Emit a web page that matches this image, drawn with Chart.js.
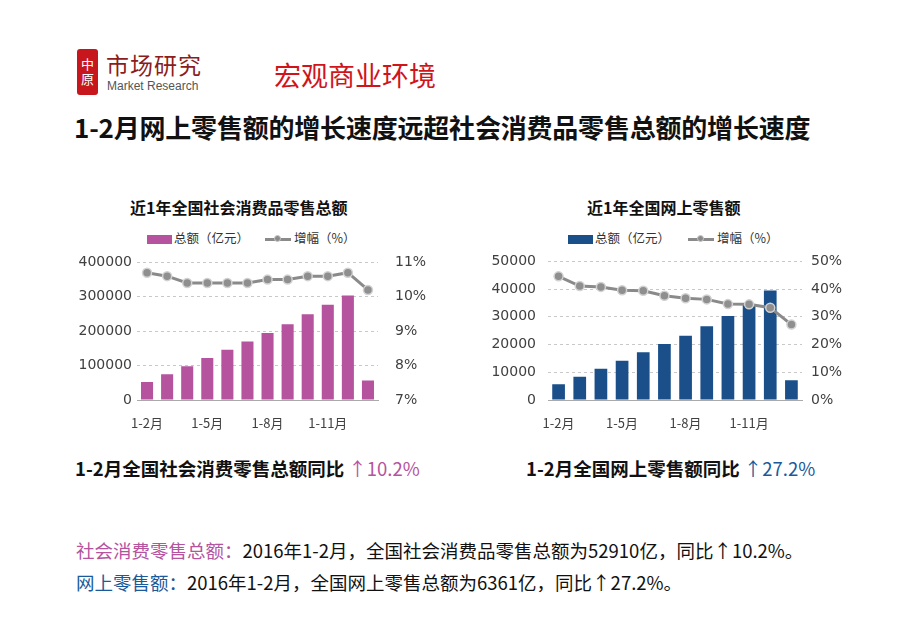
<!DOCTYPE html>
<html><head><meta charset="utf-8">
<script src="https://cdn.jsdelivr.net/npm/chart.js@4/dist/chart.umd.min.js"></script>
<style>
html,body{margin:0;padding:0;background:#fff;}
body{width:920px;height:637px;position:relative;overflow:hidden;font-family:"Noto Sans CJK SC","Noto Sans",sans-serif;}
.abs{position:absolute;white-space:nowrap;}
#logo{left:77px;top:49px;width:21px;height:46px;background:#c8161d;border-radius:3px;color:#fff;font-size:13px;line-height:15px;text-align:center;padding-top:7px;box-sizing:border-box;}
.ctitle{font-weight:bold;font-size:16px;color:#111;}
.leg{font-size:12.5px;color:#333;}
.lb{display:inline-block;width:25px;height:9px;vertical-align:middle;margin-right:2px;}
.ll{display:inline-block;width:26px;height:3px;background:#8a8a8a;vertical-align:middle;position:relative;margin-right:3px;}
.ll:after{content:"";position:absolute;left:9px;top:-3px;width:7px;height:7px;border-radius:50%;background:#8a8a8a;border:1px solid #c8c8c8;box-sizing:border-box;}
canvas{position:absolute;}
</style></head><body>
<div id="logo" class="abs">中<br>原</div>
<div class="abs" style="left:106px;top:47px;font-size:23px;color:#8a1d1d;letter-spacing:1px;">市场研究</div>
<div class="abs" style="left:107px;top:79px;font-size:12px;color:#555;font-family:'Liberation Sans',sans-serif;">Market Research</div>
<div class="abs" style="left:274px;top:55px;font-size:27px;color:#d0141c;">宏观商业环境</div>
<div class="abs" style="left:74px;top:108px;font-size:26px;font-weight:bold;color:#111;letter-spacing:-0.2px;">1-2月网上零售额的增长速度远超社会消费品零售总额的增长速度</div>

<div class="abs ctitle" style="left:130px;top:195px;">近1年全国社会消费品零售总额</div>
<div class="abs leg" style="left:147px;top:228px;"><span class="lb" style="background:#b5539f"></span>总额（亿元）<span style="display:inline-block;width:16px"></span><span class="ll"></span>增幅（%）</div>

<div class="abs ctitle" style="left:587px;top:195px;">近1年全国网上零售额</div>
<div class="abs leg" style="left:568px;top:228px;"><span class="lb" style="background:#1a4f8a"></span>总额（亿元）<span style="display:inline-block;width:18px"></span><span class="ll"></span>增幅（%）</div>

<canvas id="c1" width="375" height="203" style="left:70px;top:237px;width:375px;height:203px;"></canvas>
<canvas id="c2" width="380" height="199" style="left:470px;top:241px;width:380px;height:199px;"></canvas>

<div class="abs" style="left:75px;top:455px;font-size:18.5px;font-weight:bold;color:#111;">1-2月全国社会消费零售总额同比<span style="color:#b5539f;font-weight:normal;"> ↑10.2%</span></div>
<div class="abs" style="left:526px;top:455px;font-size:18.5px;font-weight:bold;color:#111;">1-2月全国网上零售额同比<span style="color:#1a5a9a;font-weight:normal;"> ↑27.2%</span></div>

<div class="abs" style="left:76px;top:537px;font-size:18.5px;color:#111;"><span style="color:#b5539f;">社会消费零售总额：</span>2016年1-2月，全国社会消费品零售总额为52910亿，同比↑10.2%。</div>
<div class="abs" style="left:76px;top:569px;font-size:18.5px;color:#111;"><span style="color:#1a5a9a;">网上零售额：</span>2016年1-2月，全国网上零售总额为6361亿，同比↑27.2%。</div>

<script>
const categories = ['1-2月','1-3月','1-4月','1-5月','1-6月','1-7月','1-8月','1-9月','1-10月','1-11月','1-12月','2016年1-2月'];
const retailTotal = [52000, 75000, 98000, 122000, 146000, 170000, 195000, 220000, 249000, 277000, 304000, 57000];
const retailGrowth = [10.7, 10.6, 10.4, 10.4, 10.4, 10.4, 10.5, 10.5, 10.6, 10.6, 10.7, 10.2];
const onlineTotal = [5700, 8400, 11300, 14200, 17200, 20200, 23200, 26600, 30300, 34500, 39500, 7100];
const onlineGrowth = [44.6, 41.1, 40.8, 39.6, 39.4, 37.6, 36.7, 36.3, 34.6, 34.5, 33.3, 27.2];
const retailTicks = [0, 100000, 200000, 300000, 400000];
const retailPctTicks = [7, 8, 9, 10, 11];
const onlineTicks = [0, 10000, 20000, 30000, 40000, 50000];
const onlinePctTicks = [0, 10, 20, 30, 40, 50];

const tickFont = {family:'DejaVu Sans', size:14};
const tickColor = '#404040';

function makeChart(id, totals, growth, barColor, yTicks, pTicks, leftW, rightW, leftPad, rightPad) {
  new Chart(document.getElementById(id), {
    data: {
      labels: categories,
      datasets: [
        {type:'line', data: growth, yAxisID:'y1', order:0,
         borderColor:'#8a8a8a', borderWidth:3, pointRadius:4.5, pointBackgroundColor:'#8f8f8f',
         pointBorderColor:'#d2d2d2', pointBorderWidth:1.5, tension:0},
        {type:'bar', data: totals, yAxisID:'y', order:1, backgroundColor: barColor,
         barPercentage:0.6, categoryPercentage:1.0}
      ]
    },
    options: {
      responsive:false, animation:false,
      layout:{padding:{top:10, left:0, right:0, bottom:0}},
      plugins:{legend:{display:false}, tooltip:{enabled:false}},
      scales:{
        x:{grid:{display:false}, border:{display:true, color:'#aaaaaa', width:1},
           ticks:{autoSkip:false, maxRotation:0, font:{family:'Noto Sans CJK SC', size:13}, color:tickColor, padding:7,
                  callback:function(v,i){ return (i%3===0 && i<11) ? categories[i] : ''; }},
           afterFit:function(s){ s.height = 40; }},
        y:{position:'left', min:yTicks[0], max:yTicks[yTicks.length-1],
           afterBuildTicks:function(s){ s.ticks = yTicks.map(v=>({value:v})); },
           ticks:{font:tickFont, color:tickColor, padding:leftPad, callback:function(v){ return String(v); }},
           grid:{color:'#c8c8c8', drawTicks:false}, border:{display:false, dash:[3,3]},
           afterFit:function(s){ s.width = leftW; }},
        y1:{position:'right', min:pTicks[0], max:pTicks[pTicks.length-1],
           afterBuildTicks:function(s){ s.ticks = pTicks.map(v=>({value:v})); },
           ticks:{font:tickFont, color:tickColor, padding:rightPad, callback:function(v){ return v + '%'; }},
           grid:{display:false, drawTicks:false}, border:{display:false},
           afterFit:function(s){ s.width = rightW; }}
      }
    }
  });
}
makeChart('c1', retailTotal, retailGrowth, '#b5539f', retailTicks, retailPctTicks, 67, 67, 5, 17);
makeChart('c2', onlineTotal, onlineGrowth, '#1a4f8a', onlineTicks, onlinePctTicks, 78, 48, 12, 9);
</script>
</body></html>
